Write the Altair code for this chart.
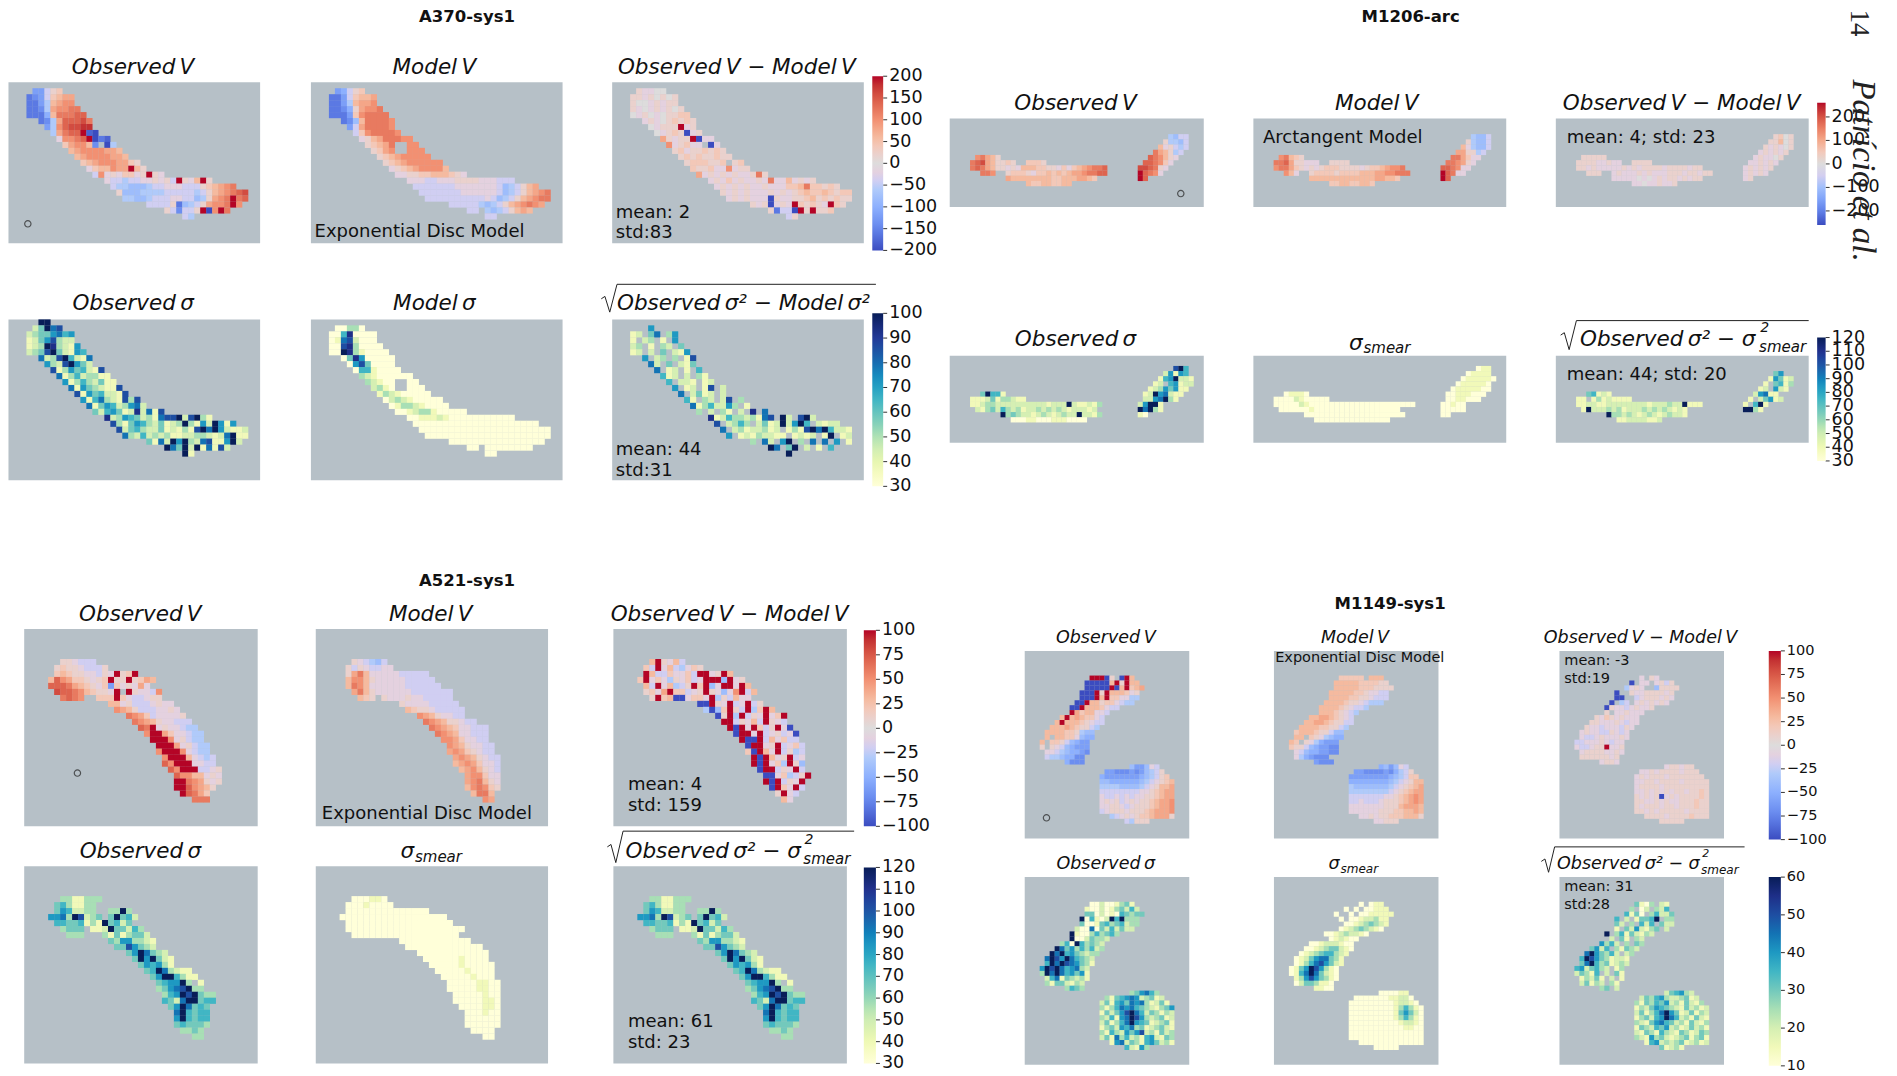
import altair as alt

S = 1897 / 1568  # picture units to page pixels
BG = "#b6c0c7"
COOL = ["#3b4cc0", "#6485ec", "#8db0fe", "#b9d0f9", "#dddcdc", "#f5c4ac", "#f29072", "#d95847", "#b40426"]
YGB = ["#ffffd9", "#edf8b1", "#c7e9b4", "#7fcdbb", "#41b6c4", "#1d91c0", "#225ea8", "#253494", "#081d58"]

def G(starts, rows):
    return [" " * s + r for s, r in zip(starts, rows)]

# ---------------- A370-sys1 ----------------
A370_ST = [5, 4, 3, 3, 3, 3, 5, 6, 7, 8, 9, 10, 11, 12, 13, 14, 16, 17, 18, 19, 23, 26, 29]
A370_OBS_V = G(A370_ST, ["", "ffb12", "hgfb2344", "hhfc3455", "hhgc45566", "hhhe366677", "hgc477786", "fc578899", "c4677Xix", "a5567Xxhi",
 "24553g xc", "345555443", "345555443", "2345554421", "a233544X31", "b5a1a22a1X1a", "abbcbbaa1a1bX1a3X1", "bccdddcbbaaabbb123456",
 "1dddccccbbbbbcb1345678", "ccddcbbbaabbdc1456X67", "bbbb1hdcb14556X5", "1bgbb1Xx5X6", "bc"])
A370_MOD_V = G(A370_ST, ["", "feb12", "hhfb2334", "hhfc3445", "hhge14556", "hhhf256666", "hgd366665", "fb466665", "b2566665", "a13466655",
 "12346  55", "1245  555", "123455555", "1234555555", "a123455553", "aa112233321a", "aaabbaaa1111aaabbb", "bbbbbbbaaaaaaabdcb134",
 "bbbbbbbaaaaaabdcb13456", "bbbbbbbbbbabdcb134566", "bbbbbcdcb1345654", "bb cdcb1343", "bb"])
A370_RES_V = G(A370_ST, ["", "1aa00", "11a10101", "100a1a11", "1a0a1a101", "0a10a01122", "a1a012121", "0a111Xa1", "0a121xa1", "41a11Xxaa",
 "5a12aa xa", "12a112121", "121211211", "1222112 12", "2112aa5a11", "4a1a1a1aa161", "a1a2a1aa1a6aa3a1a1", "a1a1a1aa1aaa223622121",
 "1a1a1aaa1a1a1232232122", "a1a1aaax1aa1123121211", "1a1xa1aX2121aX21", "1hbbxX1X112", "b1"])
A370_OBS_S = G(A370_ST, ["XX", "24X78", "23446756", "12468322", "123X93216", "2348X42165", "7238X5217", "6328X642", "813645218", "713523311",
 "613532411", "716432118", "816452218", "6157321838", "7146523672", "425641292718", "923654231788X28X31", "831465324123X3162X616",
 "82453224121318X7X62112", "732523231122332127X11", "4172X6X3278116X2", "X74X2X17182", "X1"])
A370_MOD_S = G(A370_ST, ["", "00330", "00590000", "01782000", "008930000", "00X9310000", "049600000", "06840000", "05510000", "321000000",
 "32100  00", "2310  000", "132100000", "0232100000", "0133210000", "001233100000", "001112100000000000", "000000000000000000000",
 "0000000000000000000000", "000000000000000000000", "0000000000000000", "00 00000000", "00"])
A370_RES_S = G(A370_ST, ["", "  6  ", "12 47 36", "1 23 1 6", "23 1 32 4", "12 2 4 216", "6 23 3 18", "72 4 214", "7 12 1 5", "512 2 31",
 "5 221 12", "6 12 18 2", "7 2412 2", "51 32 28 3", "71352263 1", "3 2 31 2 9 7", "91253323178 X2 8X2", "8 2353 2412X26X5 2122",
 "7 23122312 1318X7X5221", "6 12132211 1212 1X 12", "3 72 6X 3 7 7 6 1", "X7 4X 2 1 5", "X "])
# ---------------- M1206-arc ----------------
def J(left, right):
    return left.ljust(37) + right
M1206_OBS_V = ["", "", "", J("", "      cdbb"), J("", "     1ccdb"), J("", "    3a1bcb"), J("", "   6431cb"),
 J("     56431", "  76531a"), J("    678431121  2221", " 77652a"), J("    6764311a1a3332211a2a2345667", "88761a"),
 J("      665  12221a22323234456677", "X765a"), J(" " * 11 + "433333333223334432", "X7"), J(" " * 15 + "322332233", "")]
M1206_MOD_V = ["", "", "", J("", "      cddb"), J("", "     1cddb"), J("", "    3acddb"), J("", "   4411cb"),
 J("     56321", "  6642aa"), J("    667411aaa  1111", " 66541a"), J("    566421a1a12221111a12234556", "7765aa"),
 J("      53a  12222122223334455666", "X76aa"), J(" " * 11 + "333333333333344332", "X7"), J(" " * 15 + "223322332", "")]
M1206_RES_V = ["", "", "", J("", "      1201"), J("", "     11301"), J("", "    1a1a01"), J("", "   a1a1a1"),
 J("     11111", "  a1aa01"), J("    1111aa1aa  1111", " aa1a1a"), J("    11a1aaaaa1a1a1111a1111a11", "a1a1a1"),
 J("      111  a1aaa1a1aaa111a11a11", "a1a1a"), J(" " * 11 + "aaaaa0a0a1a11a1a11", "a1"), J(" " * 15 + "aa0aa1aa1", "")]
M1206_OBS_S = ["", "", J("", "       8X5"), J("", "     26165"), J("", "    156X221"), J("", "   12 56122"), J("", "  12364611"),
 J("      4X551", " 12X67211"), J("    11124133211", " 2267X31"), J("    1123322222222221222X211213", "26XX1"),
 J("     213425323122323232122212", "X7X31"), J(" " * 10 + "X34322123212322X2213", "10"), J(" " * 12 + "000110001110000", "")]
M1206_MOD_S = ["", "", J("", "       011"), J("", "     01111"), J("", "    0111110"), J("", "   0111110"), J("", "  01111100"),
 J("      01110", " 00111000"), J("    00002100000", " 0011000"), J("    0000021000000000000000000000", "00100"),
 J("     000000100000000000000000", "00000"), J(" " * 10 + "0" * 20, "00"), J(" " * 12 + "0" * 15, "")]
M1206_RES_S = ["", "", "", J("", "      46"), J("", "     16412"), J("", "    1 4513"), J("", "   12 621"),
 J("      45121", "  26711"), J("    11 13121111", " 1 24612"), J("    112211222222221222322X111", "1 5X1"),
 J("     1X2223231222323232121", "XX31"), J(" " * 10 + "X332321232123221", ""), J(" " * 12 + "112222112", "")]
# ---------------- A521-sys1 ----------------
E5 = [""] * 5
A521_OBS_V = E5 + ["      11abbb", "     1211abbb1", "     23211aab1aX12X", "    3754221a12X11X1243", "    77764321a2f2a1a4a",
 "     877653211aX X1aab5", "      6765  222X2abba11", "              33a1bbba1aa", "               5431bbbaa1a", "                 6542baaaa1",
 "                  65431aabbb", "                   76Xa1aabcc", "                    5XX42aabcc", "                     XXX5a1bcc",
 "                      XXX4a1bcc", "                      5XXX5abcc", "                       5XXX3abcb", "                       75XXXaabb",
 "                        75XXXbba1", "                         75533a1a", "                         XX6541a1", "                         XX75431",
 "                          X7642", "                            666"]
A521_MOD_V = E5 + ["      1abcdb", "     1b1abbaa", "     1463aaaaabbbbb", "     35531aaaaabbbbb", "     3653aaaaaabbbbbb",
 "      4631aaaaaabbbbbbb", "       321 1aaa1aabbbbb", "              1aaaabbbbb", "               3211abbbbb", "                 5431aabb",
 "                  654311abb", "                   65432aabbb", "                    6543aabbb", "                     5542aabb",
 "                      5431aabb", "                      45421abb", "                       45431abb", "                       34542aab",
 "                        34531ab", "                         4552aa", "                         45631a", "                         356521",
 "                          3663", "                            54"]
A521_RES_V = E5 + ["      3X1a3b", "     2bXa3bca21", "     X3bb2aa2bXXa1X3", "    2Xa2ac1a2baXXXdXa1", "     3bXa3cb1X2XdaXXaX3",
 "     12a4X22ba1X1ada5Xb3", "      1X23xxa22aXc1b3aa", "              xxX1aXbaXb1", "               cxd2X1bXc2X3", "                 x1XcXb1aXa2X",
 "                  XXb1a3bX1ab", "                   XxXaX2b1Xax", "                    xXXaXba1bax", "                     XxxXb3a2bb",
 "                      xXXa1Xba2b", "                      2xX3aXb1cb", "                       XxX3a1Xba", "                       XxXa2cX1d",
 "                        xXXb1aXb", "                         xxa2cb1X", "                         XxXb1aX", "                          xX2aXb",
 "                           1Xab", "                            3a"]
A521_OBS_S = E5 + ["      3311333", "     4531133", "     4652233  33X3", "    6673X8234 4X452", "     55445131X4524",
 "      3444 112X44253", "       333   31413442", "              43663321", "               4486432", "                 46X7432",
 "                  4X6X421", "                   465631", "                    45X73211", "                     46XX5311",
 "                      4566X3 1", "                      34678X33", "                       356X8X433", "                       5427XX455",
 "                        46X7454", "                         7X5455", "                         6X5455", "                         454443",
 "                          3343", "                            33"]
A521_MOD_S = E5 + ["      000110", "     00010000", "     00000000000000", "    000000000000000000", "     000000000000000000",
 "     00000000000000000000", "      000000000000000000", "              000000000000", "               0000000000000", "                 000000000000",
 "                  00000010000", "                   00000100000", "                    0000010000", "                     000001000",
 "                      000001100", "                      000001100", "                       00000100", "                       00000110",
 "                        0000110", "                         000100", "                         000000", "                         000000",
 "                          0000", "                            00"]
# ---------------- M1149-sys1 ----------------
M1149_ST = [0] * 5 + [13, 12, 12, 11, 11, 10, 9, 9, 7, 6, 5, 4, 4, 3, 3, 4, 4, 8, 21, 16, 15, 15, 15, 15, 15, 15, 15, 15, 17, 20]
M1149_OBS_V = G(M1149_ST, [""] * 5 + ["XXXx1 xX3", "xxxxx3X1X33", "xxxxxXx3X234", "xxxX1X3332a1", "xxxX3X22aacc",
 "xxX33122abcc", "xxX3332abb", "X4233aab", "3X34322ab", "3X33321abb", "33343211bc", "3333221cdd",
 "3 3322adee", "3 221bdeff", "1 1abdefff", "aabcdeefg", "bccdeegg", "eggg", "dffdab", "ffgggfgfdcb1",
 "efffffffedcb12", "ddeeeeeedcba123", "ccccddddcba1334", "bbbbbbbbaa12344", "abbababaa112344",
 "a1a1ba1a1123445", "aa11aba11123445", "ba111a111234445", "cba1a12234441", "bc111"])
M1149_MOD_V = G(M1149_ST, [""] * 5 + ["22222 333", "33333222211", "333332221111", "33333221aabb", "33332211abbb",
 "3333211abccc", "333321abbc", "33321abc", "3344321ab", "33443211bb", "33332211bc", "2333211bdd",
 "33 21acdee", "32 1acefff", "211bdeffgg", "abdeeffgg", "acefggg", "fggg", "edfdab", "ffggggfgecb1",
 "ffffffffedcb22", "eeeeeeeedcba133", "cdddddddcba1234", "ccccccccba12344", "bbbbbbbaa123454",
 "bbabbba11123454", "aaaaaaa11134443", "aaaaaa111223343", "aa1a112223331", "aa111"])
M1149_RES_V = G(M1149_ST, [""] * 5 + ["   a 1a  ", "  x aa a1b1", " ca1a  d1111", "x  1aa1111a1", "xx  ba111a1a",
 "x cb a1a1a1a", "x1aaba1aa1", "1 aa1aaa", "1a21a1aaa", "11aaa1abaa", "1aabaaab1a", "a1aabb1aba",
 "abba1aaa1a", "bbaaa1abaa", "abba11Xaa1", "a1111aa1a", "111111a1", "a11a", "a11a11", "aa1a1111a111",
 "a1a111a1111111", "aa11a1111a11111", "a1111a111111111", "aa1a1a1a11a1121", "1a1a1xa1a111121",
 "11aa1a1aa111211", "1a111a11a111211", "11a1a11111a1111", "1111a11112111", "11111"])
M1149_OBS_S = G(M1149_ST, [""] * 5 + ["002001341", "10020134252", "440201054344", "X05102X5X333", "400145345233",
 "200704252422", "X100353453", "X0024332", "350X53432", "X746353523", "X7X5643233", "7X86X75432",
 "5X7X876431", "6X8X756732", "3X7X756461", "257143231", "31442132", "3543", "346753", "314567623412",
 "24156476731241", "313576754321346", "142468X75243132", "325167X86323412", "241357X65412341",
 "134265734123421", "315326468231423", "241735231562143", "1672431564231", "52163"])
M1149_MOD_S = G(M1149_ST, [""] * 5 + ["    0 011", "  0 0 00111", "0  0 0011111", "  0 00122311", "   001234321",
 "   012343210", " 001232210", "  012100", "001222100", "0012344210", "0123455321", "0124677431",
 "0135786421", "0146X86310", "0157X74210", "136864310", "02443110", "1100", "000011", "000000011220",
 "00000000012210", "000000000135310", "000000000146420", "000000000135310", "000000000012210",
 "000000000001100", "000000000000000", "000000000000000", "0000000000000", "00000"])
M1149_RES_S = G(M1149_ST, [""] * 5 + ["  4103 21", "  3 02 325 ", " 5140 35224", "5 2 1445X 33", "42 3 525 422",
 " 1 4262134 2", "X 35142132", " 2 41 32", " 6352 3 43", "4625 31432", "7X64352 23", "5X86431221",
 "47X5341232", "5624532 13", "24315 2 41", "13241 2 1", "24132 31", "34 2", "245632", "243563223412",
 "31435462314213", "132465432142312", "241357X64124132", "134256X75231421", "321467542314213",
 "143254623124231", "214315321431243", "321634212341341", "1562323412312", "41231"])

DIV = dict(zip("0123456789X", [i / 10 for i in range(11)]))
NEG = dict(zip("abcdefghix", [-(i + 1) / 10 for i in range(10)]))

def cells(rows, vmin, vmax, div):
    out = []
    for r, row in enumerate(rows):
        for c, ch in enumerate(row):
            if ch == " ":
                continue
            if div:
                v = {**DIV, **NEG}[ch] * vmax
            else:
                v = vmin + DIV[ch] * (vmax - vmin)
            out.append({"x": c, "x2": c + 1.03, "y": r, "y2": r + 1.03, "v": v})
    return out

def colour_scale(vmin, vmax, div):
    dom = [vmin + (vmax - vmin) * i / 8 for i in range(9)]
    return alt.Scale(domain=dom, range=COOL if div else YGB, clamp=True)

layers = []

def panel(box, grid, rows, vmin, vmax, div, legend=None):
    x0, y0, x1, y1 = [v * S - 8 for v in box]
    nc, nr = grid
    sx = alt.Scale(domain=[0, nc], range=[x0, x1], nice=False, zero=False)
    sy = alt.Scale(domain=[0, nr], range=[y0, y1], nice=False, zero=False)
    enc = dict(x=alt.X("x:Q", scale=sx, axis=None), x2="x2:Q", y=alt.Y("y:Q", scale=sy, axis=None), y2="y2:Q")
    layers.append(alt.Chart(alt.Data(values=[{"x": 0, "x2": nc, "y": 0, "y2": nr}])).mark_rect(color=BG).encode(**enc))
    layers.append(alt.Chart(alt.Data(values=cells(rows, vmin, vmax, div))).mark_rect().encode(
        color=alt.Color("v:Q", scale=colour_scale(vmin, vmax, div), legend=legend), **enc))

def colourbar(box, vmin, vmax, ticks, font):
    x0, y0, x1, y1 = [v * S - 8 for v in box]
    sy = alt.Scale(domain=[vmin, vmax], range=[y1, y0], nice=False, zero=False)
    data = alt.Data(values=[{"t": t} for t in ticks])
    y = alt.Y("t:Q", scale=sy, axis=None)
    layers.append(alt.Chart(data).mark_rule(color="#333333", strokeWidth=1).encode(x=alt.value(x1), x2=alt.value(x1 + 4), y=y))
    layers.append(alt.Chart(data).mark_text(align="left", baseline="middle", fontSize=font, font="DejaVu Sans", color="#111111").encode(
        x=alt.value(x1 + 6), y=y, text=alt.Text("t:Q", format="d")))
    return alt.Legend(orient="none", legendX=x0, legendY=y0, gradientLength=y1 - y0, gradientThickness=x1 - x0,
                      labelOpacity=0, title=None, direction="vertical", gradientStrokeWidth=0)

def group(xs, ys, grid, data, v_range, v_ticks, s_range, s_ticks, bars, bar_ys, font):
    (vd, sd) = data
    for i, rows in enumerate(vd):
        leg = colourbar((bars[0], bar_ys[0][0], bars[1], bar_ys[0][1]), -v_range, v_range, v_ticks, font) if i == 2 else None
        panel((xs[i][0], ys[0][0], xs[i][1], ys[0][1]), grid, rows, -v_range, v_range, True, leg)
    for i, rows in enumerate(sd):
        leg = colourbar((bars[0], bar_ys[1][0], bars[1], bar_ys[1][1]), s_range[0], s_range[1], s_ticks, font) if i == 2 else None
        panel((xs[i][0], ys[1][0], xs[i][1], ys[1][1]), grid, rows, s_range[0], s_range[1], False, leg)

group([(7, 215), (257, 465), (506, 714)], [(68, 201), (264, 397)], (42, 27),
      ([A370_OBS_V, A370_MOD_V, A370_RES_V], [A370_OBS_S, A370_MOD_S, A370_RES_S]),
      200, [-200, -150, -100, -50, 0, 50, 100, 150, 200], (30, 100), list(range(30, 101, 10)), (721, 730), [(63, 207), (259, 402)], 17.5)
group([(785, 995), (1036, 1245), (1286, 1495)], [(98, 171), (294, 366)], (50, 17),
      ([M1206_OBS_V, M1206_MOD_V, M1206_RES_V], [M1206_OBS_S, M1206_MOD_S, M1206_RES_S]),
      260, [-200, -100, 0, 100, 200], (30, 120), list(range(30, 121, 10)), (1502, 1509), [(85, 186), (279, 381)], 17.5)
group([(20, 213), (261, 453), (507, 700)], [(520, 683), (716, 879)], (39, 33),
      ([A521_OBS_V, A521_MOD_V, A521_RES_V], [A521_OBS_S, A521_MOD_S, A521_OBS_S]),
      100, [-100, -75, -50, -25, 0, 25, 50, 75, 100], (30, 120), list(range(30, 121, 10)), (714, 724), [(521, 683), (717, 879)], 17.5)
group([(847, 983), (1053, 1189), (1289, 1425)], [(538, 693), (725, 880)], (33, 38),
      ([M1149_OBS_V, M1149_MOD_V, M1149_RES_V], [M1149_OBS_S, M1149_MOD_S, M1149_RES_S]),
      100, [-100, -75, -50, -25, 0, 25, 50, 75, 100], (10, 60), list(range(10, 61, 10)), (1462, 1472), [(538, 694), (725, 881)], 14.5)

# ---------------- text, drawn in page pixels ----------------
TS = "\u2009"
OBS_V, MOD_V, RES_V, OBS_SIG, MOD_SIG = f"Observed{TS}V", f"Model{TS}V", f"Observed{TS}V − Model{TS}V", f"Observed{TS}σ", f"Model{TS}σ"
HEADERS = [("A370-sys1", 386, 14), ("M1206-arc", 1166, 14), ("A521-sys1", 386, 480), ("M1149-sys1", 1149, 499)]
TITLES_C = [
 (OBS_V, 110, 56, 21.5), (MOD_V, 359, 56, 21.5), (RES_V, 609, 56, 21.5),
 (OBS_SIG, 110, 251, 21.5), (MOD_SIG, 359, 251, 21.5),
 (OBS_V, 889, 86, 21.5), (MOD_V, 1138, 86, 21.5), (RES_V, 1390, 86, 21.5), (OBS_SIG, 889, 281, 21.5),
 (OBS_V, 116, 508, 21.5), (MOD_V, 356, 508, 21.5), (RES_V, 603, 508, 21.5), (OBS_SIG, 116, 704, 21.5),
 (OBS_V, 914, 527, 17.5), (MOD_V, 1120, 527, 17.5), (RES_V, 1356, 527, 17.5), (OBS_SIG, 914, 714, 17.5),
]
TITLES_L = [
 (f"Observed{TS}σ² − Model{TS}σ²", 510, 251, 21.5),
 (f"Observed{TS}σ² − σ", 1306, 281, 21.5), ("smear", 1454, 287, 15), ("2", 1455, 271, 14),
 ("σ", 1115, 284, 21.5), ("smear", 1127, 288, 15),
 (f"Observed{TS}σ² − σ", 517, 704, 21.5), ("smear", 664, 710, 15), ("2", 665, 694, 14),
 ("σ", 331, 704, 21.5), ("smear", 343, 708, 15),
 (f"Observed{TS}σ² − σ", 1287, 714, 17.5), ("smear", 1406, 719, 12), ("2", 1407, 706, 11),
 ("σ", 1098, 714, 17.5), ("smear", 1108, 718, 12),
]
NOTES = [
 ("Exponential Disc Model", 260, 192, 18), ("mean: 2", 509, 176, 18), ("std:83", 509, 193, 18), ("mean: 44", 509, 372, 18), ("std:31", 509, 389, 18),
 ("Arctangent Model", 1044, 114, 18), ("mean: 4; std: 23", 1295, 114, 18), ("mean: 44; std: 20", 1295, 310, 18),
 ("Exponential Disc Model", 266, 673, 18), ("mean: 4", 519, 649, 18), ("std: 159", 519, 666, 18), ("mean: 61", 519, 845, 18), ("std: 23", 519, 862, 18),
 ("Exponential Disc Model", 1054, 544, 14.5), ("mean: -3", 1293, 546, 14.5), ("std:19", 1293, 561, 14.5), ("mean: 31", 1293, 733, 14.5), ("std:28", 1293, 748, 14.5),
]
PSF = [(23, 185), (976, 160), (64, 639), (865, 676)]
RADICALS = [
 [(497, 247), (500, 245), (504, 258), (510, 235), (724, 235)],
 [(1290, 277), (1293, 275), (1297, 289), (1303, 265), (1495, 265)],
 [(502, 700), (505, 698), (509, 713), (515, 687), (706, 687)],
 [(1274, 712), (1277, 710), (1280, 721), (1285, 700), (1442, 700)],
]

def px(rows):
    return alt.Data(values=[{"t": t, "x": x * S - 8, "y": y * S - 8, "s": s} for t, x, y, s in rows])

X = alt.X("x:Q", scale=None, axis=None)
Y = alt.Y("y:Q", scale=None, axis=None)
SZ = alt.Size("s:Q", scale=None, legend=None)

def text_layer(rows, **kw):
    layers.append(alt.Chart(px(rows)).mark_text(baseline="middle", font="DejaVu Sans", color="#111111", **kw).encode(x=X, y=Y, size=SZ, text="t:N"))

text_layer([(t, x, y, 16.5) for t, x, y in HEADERS], align="center", fontWeight="bold")
text_layer(TITLES_C, align="center", fontStyle="italic")
text_layer(TITLES_L, align="left", fontStyle="italic")
text_layer(NOTES, align="left")
layers.append(alt.Chart(px([("", x, y, 0) for x, y in PSF])).mark_point(size=40, color="#222222", strokeWidth=1.2, filled=False).encode(x=X, y=Y))
rad = [{"id": i, "x": x * S - 8, "y": y * S - 8} for i, pts in enumerate(RADICALS) for x, y in pts]
layers.append(alt.Chart(alt.Data(values=rad)).mark_line(color="#222222", strokeWidth=1).encode(x=X, y=Y, detail="id:N"))
layers.append(alt.Chart(px([("14", 1537, 19, 27)])).mark_text(angle=90, align="center", baseline="middle", font="Liberation Serif", color="#222222").encode(x=X, y=Y, size=SZ, text="t:N"))
layers.append(alt.Chart(px([("Patrício et al.", 1540, 141, 33)])).mark_text(angle=90, align="center", baseline="middle", font="Liberation Serif", fontStyle="italic", color="#222222").encode(x=X, y=Y, size=SZ, text="t:N"))

chart = (alt.layer(*layers)
         .resolve_scale(x="independent", y="independent", color="independent", size="independent")
         .resolve_axis(x="independent", y="independent")
         .properties(width=1881, height=1068, padding=0, autosize=alt.AutoSizeParams(type="none"))
         .configure_view(stroke=None))
chart.save("out.html", embed_options={"renderer": "svg", "actions": False})
